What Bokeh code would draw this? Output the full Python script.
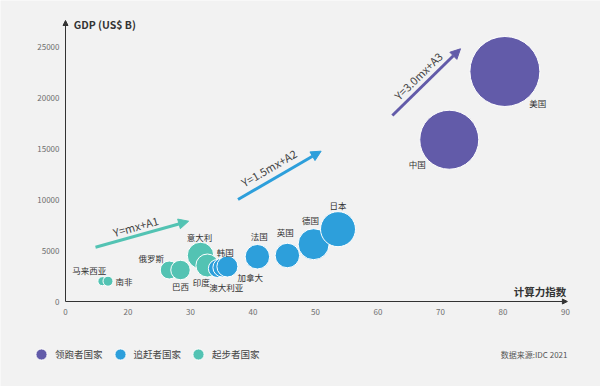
import math
from bokeh.plotting import figure
from bokeh.models import (ColumnDataSource, LinearAxis, FixedTicker, Arrow, NormalHead,
                          Label, LabelSet, Legend, LegendItem, Range1d)
from bokeh.embed import file_html
from bokeh.resources import INLINE
from bokeh.core.properties import value

# ---------------- data ----------------
# x: computing-power index (axis position; tick "0" sits at 10), y: GDP (US$ B)
leader_names = ["中国", "美国"]
leader_index = [71.4, 80.3]
leader_gdp = [15860, 22550]
leader_weight = [59, 70]

chaser_names = ["澳大利亚", "韩国", "加拿大", "法国", "英国", "德国", "日本"]
chaser_index = [34.3, 35.1, 35.9, 40.7, 45.5, 49.7, 53.6]
chaser_gdp = [3235, 3333, 3431, 4390, 4510, 5620, 7090]
chaser_weight = [18, 19, 21, 24.5, 24.5, 31, 35]

starter_names = ["马来西亚", "南非", "俄罗斯", "巴西", "意大利", "印度"]
starter_index = [15.9, 16.8, 26.6, 28.4, 31.6, 32.7]
starter_gdp = [1990, 1990, 3088, 3088, 4510, 3529]
starter_weight = [9, 10, 18, 19.5, 26.5, 23]

group_labels = ["领跑者国家", "追赶者国家", "起步者国家"]

trend_labels = ["Y=mx+A1", "Y=1.5mx+A2", "Y=3.0mx+A3"]
trend_x0 = [14.8, 37.6, 62.3]
trend_y0 = [5324, 10000, 18235]
trend_x1 = [29.7, 50.9, 73.2]
trend_y1 = [7873, 14735, 24775]

x_ticks = [10, 20, 30, 40, 50, 60, 70, 80, 90]
x_tick_labels = ["0", "20", "30", "40", "50", "60", "70", "80", "90"]
y_ticks = [0, 5000, 10000, 15000, 20000, 25000]

# ---------------- style ----------------
FONT = "Noto Sans CJK SC"
BG = "#f2f2f2"
C_LEAD = "#625ba9"
C_CHASE = "#2d9fdb"
C_START = "#53c3b3"
SIZE_SCALE = 1.0

# label offsets in screen pixels (dx right, dy up)
LABEL_OFFSET = {
    "美国": (33, -32), "中国": (-32, -24),
    "日本": (0, 24), "德国": (-3, 24), "英国": (-2, 23), "法国": (2, 21),
    "加拿大": (23, -10), "韩国": (3, 16), "澳大利亚": (9, -18),
    "意大利": (-1, 18), "印度": (-6, -16), "巴西": (0, -16), "俄罗斯": (-18, 12),
    "马来西亚": (-13, 11), "南非": (16, 0),
}
# trend-label placement in pixels: (shift along the arrow, distance above it)
TREND_TEXT_SHIFT = [(-4, 9.5), (-5.5, 12), (-1.5, 10.5)]

W, H = 600, 386
PX_PER_X = 6.25          # pixels per x unit
PX_PER_Y = 51 / 5000.0   # pixels per GDP unit
X0_PX, Y0_PX = 65, 301   # where (10, 0) sits inside the figure

x_start = 10 - X0_PX / PX_PER_X
x_end = x_start + W / PX_PER_X
y_end = Y0_PX / PX_PER_Y
y_start = y_end - H / PX_PER_Y

p = figure(width=W, height=H, x_range=Range1d(x_start, x_end), y_range=Range1d(y_start, y_end),
           output_backend="svg", toolbar_location=None, x_axis_type=None, y_axis_type=None,
           min_border=0)
p.background_fill_color = BG
p.border_fill_color = BG
p.outline_line_color = None

Y_TOP = (Y0_PX - 20) / PX_PER_Y
X_RIGHT = 90.3


def style_axis(ax):
    ax.axis_line_color = None
    ax.major_tick_out = 0
    ax.major_tick_in = 0
    ax.minor_tick_out = 0
    ax.minor_tick_in = 0
    ax.major_label_text_font = FONT
    ax.major_label_text_font_size = "8px"
    ax.major_label_text_color = "#6e6e6e"


xaxis = LinearAxis(fixed_location=0, bounds=(10, 90), ticker=FixedTicker(ticks=x_ticks),
                   major_label_overrides={t: s for t, s in zip(x_ticks, x_tick_labels)})
style_axis(xaxis)
xaxis.major_label_standoff = 7
p.add_layout(xaxis, "below")

yaxis = LinearAxis(fixed_location=10, bounds=(0, 25000), ticker=FixedTicker(ticks=y_ticks))
style_axis(yaxis)
yaxis.major_label_standoff = 6
p.add_layout(yaxis, "left")

# axis lines with arrow heads
p.add_layout(Arrow(x_start=10, y_start=0, x_end=10, y_end=Y_TOP, line_color="#333333", line_width=1,
                   end=NormalHead(size=5, fill_color="#333333", line_color="#333333")))
p.add_layout(Arrow(x_start=10, y_start=0, x_end=X_RIGHT, y_end=0, line_color="#333333", line_width=1,
                   end=NormalHead(size=5, fill_color="#333333", line_color="#333333")))

p.add_layout(Label(x=11.3, y=(Y0_PX - 24) / PX_PER_Y, text="GDP (US$ B)", text_font=FONT,
                   text_font_size="10.5px", text_color="#333333", text_align="left",
                   text_baseline="middle", text_font_style="bold"))
p.add_layout(Label(x=90.1, y=980, text="计算力指数", text_font=FONT, text_font_size="10.5px",
                   text_color="#333333", text_align="right", text_baseline="middle",
                   text_font_style="bold"))

# trend arrows
trend_colors = [C_START, C_CHASE, C_LEAD]
for lab, xa, ya, xb, yb, col, (along, perp) in zip(trend_labels, trend_x0, trend_y0, trend_x1,
                                                   trend_y1, trend_colors, TREND_TEXT_SHIFT):
    p.add_layout(Arrow(x_start=xa, y_start=ya, x_end=xb, y_end=yb, line_color=col, line_width=3,
                       end=NormalHead(size=10, fill_color=col, line_color=col, line_width=1)))
    dxp = (xb - xa) * PX_PER_X
    dyp = (yb - ya) * PX_PER_Y
    ang = math.atan2(dyp, dxp)
    mx, my = (xa + xb) / 2, (ya + yb) / 2
    ox = along * math.cos(ang) - perp * math.sin(ang)
    oy = along * math.sin(ang) + perp * math.cos(ang)
    p.add_layout(Label(x=mx, y=my, x_offset=ox, y_offset=oy,
                       text=lab, angle=ang, text_font=FONT, text_font_size="11px",
                       text_color="#444444", text_align="center", text_baseline="middle"))


def make_source(names, xs, ys, ws):
    return ColumnDataSource(dict(
        name=names, x=xs, gdp=ys, size=[w * SIZE_SCALE for w in ws],
        dx=[LABEL_OFFSET[n][0] for n in names], dy=[LABEL_OFFSET[n][1] for n in names]))


groups = [
    (starter_names, starter_index, starter_gdp, starter_weight, C_START),
    (chaser_names, chaser_index, chaser_gdp, chaser_weight, C_CHASE),
    (leader_names, leader_index, leader_gdp, leader_weight, C_LEAD),
]
renderers = []
for names, xs, ys, ws, col in groups:
    src = make_source(names, xs, ys, ws)
    r = p.scatter(x="x", y="gdp", size="size", source=src, fill_color=col, line_color="white",
                  line_width=1)
    renderers.append(r)
    p.add_layout(LabelSet(x="x", y="gdp", text="name", x_offset="dx", y_offset="dy", source=src,
                          text_font=value(FONT), text_font_size=value("8.5px"),
                          text_color="#333333", text_align="center", text_baseline="middle"))

legend = Legend(items=[LegendItem(label=group_labels[0], renderers=[renderers[2]]),
                       LegendItem(label=group_labels[1], renderers=[renderers[1]]),
                       LegendItem(label=group_labels[2], renderers=[renderers[0]])],
                orientation="horizontal", location=(27, 18), glyph_width=28, glyph_height=28,
                label_standoff=0, spacing=3, padding=0, margin=0, border_line_color=None,
                background_fill_alpha=0, label_text_font=FONT, label_text_font_size="9.5px",
                label_text_color="#444444")
p.add_layout(legend)

p.add_layout(Label(x=567, y=32, x_units="screen", y_units="screen", text="数据来源:IDC 2021",
                   text_font=FONT, text_font_size="8px", text_color="#555555",
                   text_align="right", text_baseline="middle"))

open("out.html", "w").write(file_html(p, INLINE, title="chart"))
